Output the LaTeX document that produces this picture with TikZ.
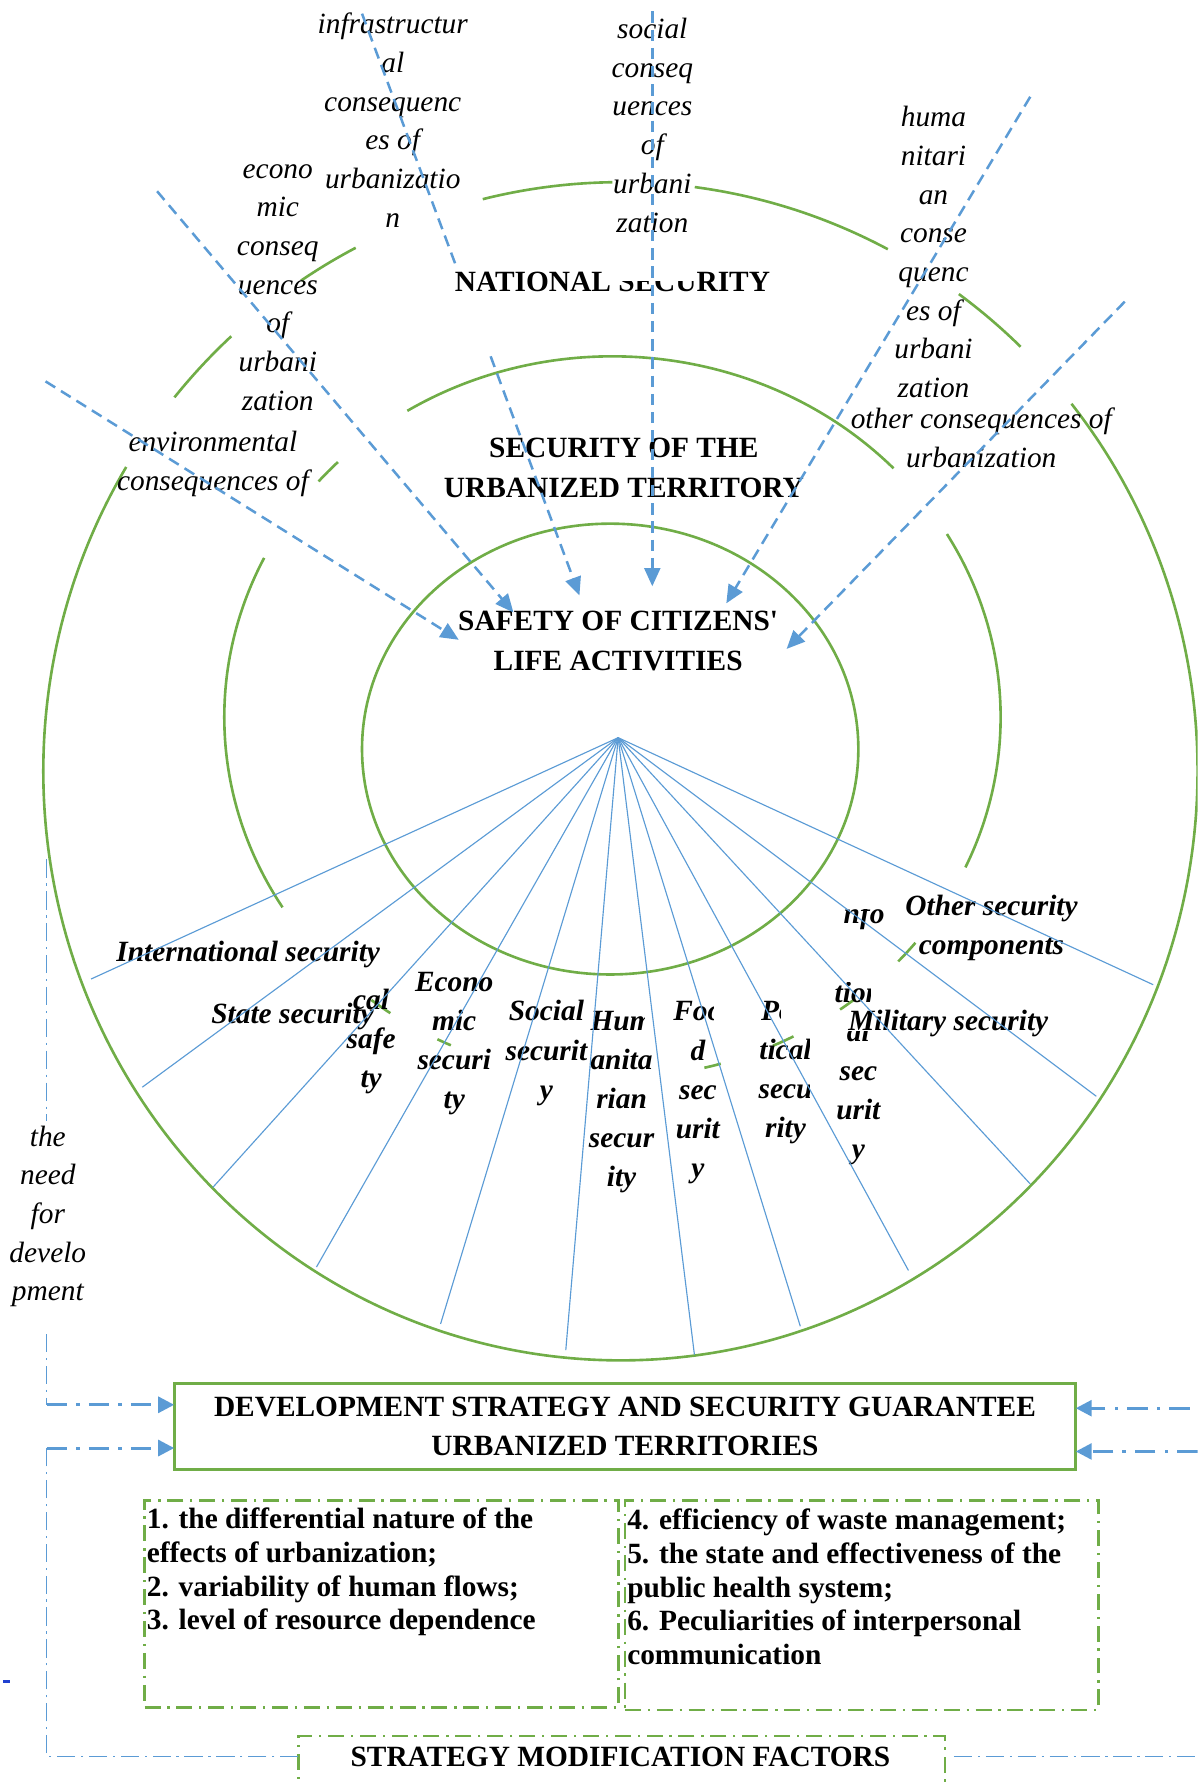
\documentclass[tikz,border=0pt]{standalone}
\usepackage{fontspec}
\setmainfont{Liberation Serif}
\usetikzlibrary{arrows.meta}
\definecolor{grn}{HTML}{70AD47}
\definecolor{blu}{HTML}{5B9BD5}
\definecolor{dkblu}{HTML}{2040D0}
\newcommand\ringarc[6]{\draw[ring] (#1,#2) ++(#5:#3 and #4) arc[start angle=#5,end angle=#6,x radius=#3,y radius=#4];}
\begin{document}
\begin{tikzpicture}[x=0.5pt,y=-0.5pt,
  every node/.style={inner sep=0pt, outer sep=0pt},
  ring/.style={draw=grn, line width=1.15pt},
  ray/.style={draw=blu, line width=0.5pt},
  infl/.style={draw=blu, line width=1.1pt, dash pattern=on 5pt off 3pt},
  inflarr/.style={infl, -{Triangle[length=8pt,width=7pt]}},
  guide/.style={draw=blu, line width=0.5pt, dash pattern=on 8pt off 2.5pt on 1pt off 2.5pt},
  feed/.style={draw=blu, line width=1.3pt, dash pattern=on 9pt off 4pt on 1.5pt off 4pt, -{Triangle[length=7pt,width=7pt]}},
  factor/.style={draw=grn, line width=1.2pt, dash pattern=on 7pt off 3pt on 1pt off 3pt},
  cons/.style={align=center, font=\fontsize{12.9}{17}\selectfont\itshape},
  seg/.style={align=center, font=\fontsize{12.9}{17.2}\selectfont\bfseries\itshape},
  capt/.style={align=center, font=\fontsize{12.9}{17.5}\selectfont\bfseries},
  item/.style={align=left, font=\fontsize{12.9}{14.75}\selectfont\bfseries},
]
\useasboundingbox (0,0) rectangle (1052,1568);
\clip (0,0) rectangle (1052,1568);
% ---------- rings ----------
\draw[ring] (536,658) ellipse [x radius=218, y radius=198];
% middle ring
\ringarc{538}{630}{341}{317}{148.2}{206.2}
\ringarc{538}{630}{341}{317}{220.8}{225}
\ringarc{538}{630}{341}{317}{238.1}{316.4}
\ringarc{538}{630}{341}{317}{-30.5}{24.6}
\ringarc{538}{630}{341}{317}{124.9}{128.4}
\ringarc{538}{630}{341}{317}{114.6}{116.8}
\ringarc{538}{630}{341}{317}{73.8}{76.3}
\ringarc{538}{630}{341}{317}{62.2}{65.6}
\ringarc{538}{630}{341}{317}{51.3}{54.1}
\ringarc{538}{630}{341}{317}{38.7}{42.6}
% outer ring
\ringarc{545}{677.5}{507}{517.5}{219.4}{227.6}
\ringarc{545}{677.5}{507}{517.5}{236.4}{242.7}
\ringarc{545}{677.5}{507}{517.5}{256.2}{269.2}
\ringarc{545}{677.5}{507}{517.5}{277.4}{297.6}
\ringarc{545}{677.5}{507}{517.5}{305.9}{313.9}
\ringarc{545}{677.5}{507}{517.5}{321.4}{571.1}
% ---------- level titles ----------
\node[capt] (nat) at (538,248) {NATIONAL SECURITY};
\node[capt] (urb) at (548,411) {SECURITY OF THE\\URBANIZED TERRITORY};
\node[capt] (cit) at (543,563) {SAFETY OF CITIZENS\textquotesingle\\LIFE ACTIVITIES};
\fill[white] (538,222) rectangle (611,247);
% ---------- consequences ----------
\node[cons] (infra) at (345,105.5) {infrastructur\\al\\consequenc\\es of\\urbanizatio\\n};
\node[cons] (soc) at (573,110) {social\\conseq\\uences\\of\\urbani\\zation};
\node[cons] (eco) at (244,252.5) {econo\\mic\\conseq\\uences\\of\\urbani\\zation};
\node[cons] (hum) at (820,221.5) {huma\\nitari\\an\\conse\\quenc\\es of\\urbani\\zation};
\node[cons] (oth) at (862,384.5) {other consequences of\\urbanization};
\node[cons] (env) at (187,407.5) {environmental\\consequences of};
\node[cons] (need) at (42,1068.5) {the\\need\\for\\develo\\pment};
% ---------- security components ----------
\node[seg] (intl) at (218,838) {International security};
\node[seg] (state) at (257,893) {State security};
\node[seg] (phys) at (326,915) {cal\\safe\\ty};
\node[seg] (econ) at (399,916.5) {Econo\\mic\\securi\\ty};
\node[seg] (socs) at (480,925) {Social\\securit\\y};
\begin{scope}
\clip (490,870) rectangle (566,1070) (490,916) rectangle (610,1070);
\node[seg] (humn) at (546,968) {Hum\\anita\\rian\\secur\\ity};
\end{scope}
\begin{scope}
\clip (570,870) rectangle (627,1060) (570,907) rectangle (660,1060);
\node[seg] (food) at (613,960) {Foo\\d\\sec\\urit\\y};
\end{scope}
\begin{scope}
\clip (650,870) rectangle (686,907) (650,907) rectangle (711,1015);
\node[seg] (polit) at (690,941.5) {Poli\\tical\\secu\\rity};
\end{scope}
\begin{scope}
\clip (741,798) rectangle (790,822) (720,862) rectangle (765,890) (720,905) rectangle (790,925) (720,925) rectangle (800,1030);
\node[seg] (info) at (754,908.5) {Info\\rma\\tion\\al\\sec\\urit\\y};
\end{scope}
\node[seg] (other) at (871,815) {Other security\\components};
\node[seg] (mil) at (833,899) {Military security};
% ---------- influence arrows ----------
\coordinate (sInf) at (318,12); \coordinate (mInf) at (400,232);
\coordinate (nInf) at (431,313); \coordinate (tInf) at (509,523);
\coordinate (sEco) at (138,168); \coordinate (tEco) at (451,538);
\coordinate (sEnv) at (40,335);  \coordinate (tEnv) at (403,562);
\coordinate (sSoc) at (573,10);  \coordinate (tSoc) at (573,515);
\coordinate (sHum) at (905,85);  \coordinate (tHum) at (638,530);
\coordinate (sOth) at (988,265); \coordinate (tOth) at (691,570);
\draw[infl] (sInf) -- (mInf);
\draw[inflarr] (nInf) -- (tInf);
\draw[inflarr] (sEco) -- (tEco);
\draw[inflarr] (sEnv) -- (tEnv);
\draw[inflarr] (sSoc) -- (tSoc);
\draw[inflarr] (sHum) -- (tHum);
\draw[inflarr] (sOth) -- (tOth);
% ---------- rays ----------
\coordinate (O) at (543,648);
\coordinate (r1) at (80,860);
\coordinate (r2) at (125,955);
\coordinate (r3) at (187,1043);
\coordinate (r4) at (278,1113);
\coordinate (r5) at (387,1163);
\coordinate (r6) at (497,1186);
\coordinate (r7) at (610,1190);
\coordinate (r8) at (703,1165);
\coordinate (r9) at (798,1116);
\coordinate (r10) at (905,1040);
\coordinate (r11) at (963,963);
\coordinate (r12) at (1013,865);
\foreach \i in {1,...,12} \draw[ray] (O) -- (r\i);
% ---------- strategy block ----------
\node[capt, draw=grn, line width=1.2pt, minimum width=396pt, minimum height=38pt] (dev) at (549,1253) {DEVELOPMENT STRATEGY AND SECURITY GUARANTEE\\URBANIZED TERRITORIES};
\node[factor, minimum width=208pt, minimum height=91pt] (fl) at (335,1409) {};
\node[factor, minimum width=208pt, minimum height=92pt] (fr) at (757,1410) {};
\node[item, anchor=west] (fltxt) at (129,1381) {1. the differential nature of the\\effects of urbanization;\\2. variability of human flows;\\3. level of resource dependence};
\node[item, anchor=west] (frtxt) at (551,1394) {4. efficiency of waste management;\\5. the state and effectiveness of the\\public health system;\\6. Peculiarities of interpersonal\\communication};
\node[factor, minimum width=284pt, minimum height=40pt] (smf) at (546,1565) {};
\node[capt] (smft) at (545,1543) {STRATEGY MODIFICATION FACTORS};
% ---------- feedback lines ----------
\coordinate (gA) at (41,755); \coordinate (gB) at (41,985);
\coordinate (gC) at (41,1172); \coordinate (gD) at (41,1234);
\coordinate (gE) at (41,1272); \coordinate (gF) at (41,1543);
\draw[guide] (gA) -- (gB);
\draw[guide] (gC) -- (gD);
\draw[feed] (gD) -- (dev.west |- gD);
\draw[guide] (smf.west |- smft) -- (gF) -- (gE);
\draw[feed] (gE) -- (dev.west |- gE);
\coordinate (hA) at (1045,1237); \coordinate (hB) at (1052,1275);
\draw[feed] (hA) -- (dev.east |- hA);
\draw[feed] (hB) -- (dev.east |- hB);
\coordinate (hC) at (838,1543); \coordinate (hD) at (1052,1543);
\draw[guide] (hC) -- (hD);
\draw[dkblu, line width=1.2pt] (3,1477) -- (9,1477);
\end{tikzpicture}
\end{document}
